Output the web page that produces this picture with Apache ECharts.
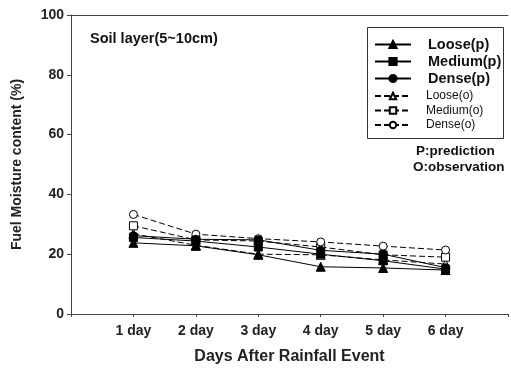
<!DOCTYPE html>
<html><head><meta charset="utf-8">
<script src="https://cdn.jsdelivr.net/npm/echarts@6/dist/echarts.min.js"></script>
<style>html,body{margin:0;padding:0;background:#fff}#c{width:511px;height:370px}</style>
</head><body><div id="c"></div>
<script>
var days = [1, 2, 3, 4, 5, 6];
var dayLabels = ['1 day', '2 day', '3 day', '4 day', '5 day', '6 day'];
var yTicks = [0, 20, 40, 60, 80, 100];
var loosePred  = [23.8, 22.8, 19.8, 15.8, 15.4, 14.7];
var mediumPred = [25.6, 24.4, 22.4, 20.0, 17.8, 15.0];
var densePred  = [26.2, 25.0, 24.8, 21.3, 20.0, 15.5];
var looseObs   = [26.8, 23.0, 20.0, 19.8, 18.1, 16.7];
var mediumObs  = [29.5, 24.8, 24.4, 22.4, 19.8, 19.0];
var denseObs   = [33.3, 26.7, 25.2, 24.1, 22.7, 21.4];

var F = 'Liberation Sans, Arial, Helvetica, sans-serif';
function pts(vals){ return days.map(function(d,i){ return [d, vals[i]]; }); }
function mk(name, vals, symbol, filled, dashed){
  return {
    name: name, type: 'line', data: pts(vals), symbol: symbol, symbolSize: symbol==='triangle'?9:8,
    lineStyle: {color:'#000', width:1, type: dashed ? [6,3] : 'solid'},
    itemStyle: {color: filled ? '#000' : '#fff', borderColor:'#000', borderWidth:1},
    z: filled ? 3 : 2
  };
}
var chart = echarts.init(document.getElementById('c'), null, {renderer:'canvas'});
chart.setOption({
  animation: false,
  grid: {left: 71, top: 15, right: -4, bottom: 55},
  xAxis: [{
    type: 'value', min: 0, max: 7, interval: 1,
    name: 'Days After Rainfall Event', nameLocation: 'middle', nameGap: 35,
    nameTextStyle: {fontFamily: F, fontWeight: 'bold', fontSize: 16, color: '#222'},
    axisLine: {lineStyle: {color: '#444', width: 1}},
    axisTick: {length: 3, lineStyle: {color: '#444'}},
    splitLine: {show: false},
    axisLabel: {fontFamily: F, fontWeight: 'bold', fontSize: 14, color: '#222', margin: 10,
      formatter: function(v){ var i = days.indexOf(v); return i >= 0 ? dayLabels[i] : ''; }}
  }, {
    type: 'value', position: 'top', min: 0, max: 7,
    axisLine: {show: true, lineStyle: {color: '#444', width: 1}},
    axisTick: {show: false}, axisLabel: {show: false}, splitLine: {show: false}
  }],
  yAxis: {
    type: 'value', min: 0, max: 100, interval: 20,
    name: 'Fuel Moisture content (%)', nameLocation: 'middle', nameGap: 47,
    nameTextStyle: {fontFamily: F, fontWeight: 'bold', fontSize: 14, color: '#222'},
    axisLine: {show: true, lineStyle: {color: '#444', width: 1}},
    axisTick: {show: true, length: 4, lineStyle: {color: '#444'}},
    splitLine: {show: false},
    axisLabel: {fontFamily: F, fontWeight: 'bold', fontSize: 14, color: '#222', margin: 7,
      formatter: function(v){ return yTicks.indexOf(v) >= 0 ? String(v) : ''; }}
  },
  legend: [{
    orient: 'vertical', left: 374, top: 37, padding: 0, itemWidth: 36, itemHeight: 9, itemGap: 2,
    data: ['Loose(p)', 'Medium(p)', 'Dense(p)'],
    textStyle: {fontFamily: F, fontWeight: 'bold', fontSize: 14.5, lineHeight: 12, color: '#111', padding: [0,0,0,12]}
  }, {
    orient: 'vertical', left: 374, top: 90, padding: 0, itemWidth: 36, itemHeight: 8, itemGap: 2.5,
    data: ['Loose(o)', 'Medium(o)', 'Dense(o)'],
    textStyle: {fontFamily: F, fontSize: 12, lineHeight: 12, color: '#111', padding: [0,0,0,10]}
  }],
  graphic: [
    {type: 'rect', shape: {x: 367.5, y: 27.5, width: 136, height: 111}, style: {fill: 'none', stroke: '#333', lineWidth: 1}, z: 0},
    {type: 'text', left: 90, top: 31, style: {text: 'Soil layer(5~10cm)', font: 'bold 14.5px ' + F, fill: '#111'}},
    {type: 'text', left: 416, top: 144, style: {text: 'P:prediction', font: 'bold 13.5px ' + F, fill: '#111'}},
    {type: 'text', left: 413, top: 160, style: {text: 'O:observation', font: 'bold 13.5px ' + F, fill: '#111'}}
  ],
  series: [
    mk('Loose(p)', loosePred, 'triangle', true, false),
    mk('Medium(p)', mediumPred, 'rect', true, false),
    mk('Dense(p)', densePred, 'circle', true, false),
    mk('Loose(o)', looseObs, 'triangle', false, true),
    mk('Medium(o)', mediumObs, 'rect', false, true),
    mk('Dense(o)', denseObs, 'circle', false, true)
  ]
});
</script></body></html>
